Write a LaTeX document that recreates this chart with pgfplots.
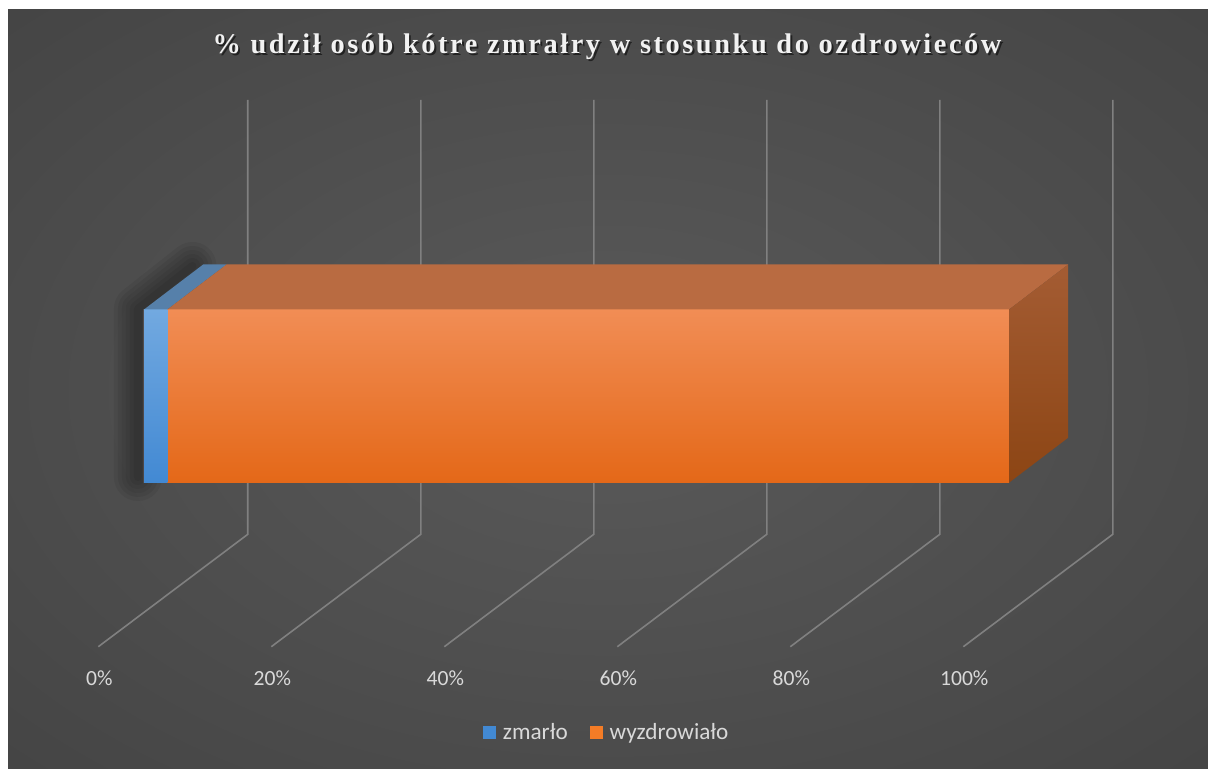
\documentclass[border=0pt]{standalone}
\usepackage{fontspec}
\setmainfont{Carlito}
\newfontfamily\titlefont[LetterSpace=9]{Liberation Serif}
\usepackage{pgfplots}
\pgfplotsset{compat=1.18}
\usepackage{pgfplotstable}

\definecolor{bgin}{HTML}{5A5A5A}
\definecolor{bgmid}{HTML}{3C3C3C}
\definecolor{bgout}{HTML}{282828}
\definecolor{gridc}{HTML}{808080}
\definecolor{labc}{HTML}{D9D9D9}
\definecolor{titc}{HTML}{F2F2F2}
\definecolor{blueT}{HTML}{72A9E0}
\definecolor{blueB}{HTML}{4289D3}
\definecolor{blueTop}{HTML}{5680AA}
\definecolor{orT}{HTML}{F18D55}
\definecolor{orM}{HTML}{F47C26}
\definecolor{orB}{HTML}{E46818}
\definecolor{orTop}{HTML}{B96B41}
\definecolor{sideT}{HTML}{A45C33}
\definecolor{sideB}{HTML}{8C4514}

\pgfdeclareradialshading{bgshade}{\pgfpoint{0bp}{0bp}}{%
  color(0bp)=(bgin); color(50bp)=(bgmid); color(71bp)=(bgout)}

% y = wysokosc pasa (piksele od dolu), wartosci w %
\pgfplotstableread{
y     zmarlo wyzdrowialo
372.9 2.7    97.3
}\dane

\begin{document}
\begin{tikzpicture}
  % tlo wykresu
  \fill[white] (0,0) rectangle (604bp,384.5bp);
  \shade[shading=bgshade] (4bp,0) rectangle (604bp,379.5bp);
  \begin{axis}[
      scale only axis, width=604bp, height=384.5bp,
      xmin=-16.647, xmax=123.006, ymin=0, ymax=769,
      clip=false,
      axis line style={draw=none}, tick style={draw=none},
      ytick=\empty,
      xtick={-5.17,14.83,34.83,54.83,74.83,94.83},
      xticklabels={0\%,20\%,40\%,60\%,80\%,100\%},
      xticklabel style={anchor=center, yshift=45.5bp,
        font=\fontsize{10.8bp}{12bp}\selectfont, text=labc},
      legend style={at={(0.503,0.0468)}, anchor=center, draw=none, fill=none,
        font=\fontsize{11.6bp}{13bp}\selectfont, text=labc,
        /tikz/every even column/.append style={column sep=9bp}},
      legend columns=2,
      legend image code/.code={\fill[#1, draw=none] (0bp,-3.2bp) rectangle (6.5bp,3.3bp);
        \path[draw=none, fill=none] (0bp,0) -- (8bp,0);},
    ]
    % siatka: sciana tylna i podloga
    \addplot[gridc, line width=0.8bp, forget plot] coordinates {(-5.28,122.3) (12,234.7) (12,669)};
    \addplot[gridc, line width=0.8bp, forget plot] coordinates {(14.72,122.3) (32,234.7) (32,669)};
    \addplot[gridc, line width=0.8bp, forget plot] coordinates {(34.72,122.3) (52,234.7) (52,669)};
    \addplot[gridc, line width=0.8bp, forget plot] coordinates {(54.72,122.3) (72,234.7) (72,669)};
    \addplot[gridc, line width=0.8bp, forget plot] coordinates {(74.72,122.3) (92,234.7) (92,669)};
    \addplot[gridc, line width=0.8bp, forget plot] coordinates {(94.72,122.3) (112,234.7) (112,669)};

    % miekki cien przy lewej krawedzi
    \pgfplotsinvokeforeach{24,20,16,12,8,4}{
      \addplot[black, opacity=0.06, line width=#1bp, line cap=round, line join=round, forget plot]
        coordinates {(-0.7,292) (-0.7,460) (5.6,503)};
    }

    % przednie sciany pasa
    \addplot[xbar, bar width=86.6bp, bar shift=0pt, draw=none,
      top color=orT, middle color=orM, bottom color=orB, forget plot]
      table[x expr=\thisrow{zmarlo}+\thisrow{wyzdrowialo}, y=y] {\dane};
    \addplot[xbar, bar width=86.6bp, bar shift=0pt, draw=none,
      top color=blueT, bottom color=blueB, forget plot]
      table[x=zmarlo, y=y] {\dane};

    % gorne sciany
    \addplot[fill=blueTop, draw=none, forget plot]
      coordinates {(0,459.5) (2.7,459.5) (9.54,504.5) (6.84,504.5) (0,459.5)};
    \addplot[fill=orTop, draw=none, forget plot]
      coordinates {(2.7,459.5) (100,459.5) (106.84,504.5) (9.54,504.5) (2.7,459.5)};
    % boczna sciana
    \addplot[top color=sideT, bottom color=sideB, draw=none, forget plot]
      coordinates {(100,286.3) (100,459.5) (106.84,504.5) (106.84,331.3) (100,286.3)};

    \addlegendimage{fill=blueB}
    \addlegendentry{zmarło}
    \addlegendimage{fill=orM}
    \addlegendentry{wyzdrowiało}

    % tytul
    \node[text=black, opacity=0.55, font=\titlefont\bfseries\fontsize{14.2bp}{16bp}\selectfont]
      at (axis cs:53.75,720) {\% udził osób kótre zmrałry w stosunku do ozdrowieców};
    \node[text=titc, font=\titlefont\bfseries\fontsize{14.2bp}{16bp}\selectfont]
      at (axis cs:53.53,722) {\% udził osób kótre zmrałry w stosunku do ozdrowieców};
  \end{axis}
\end{tikzpicture}
\end{document}
